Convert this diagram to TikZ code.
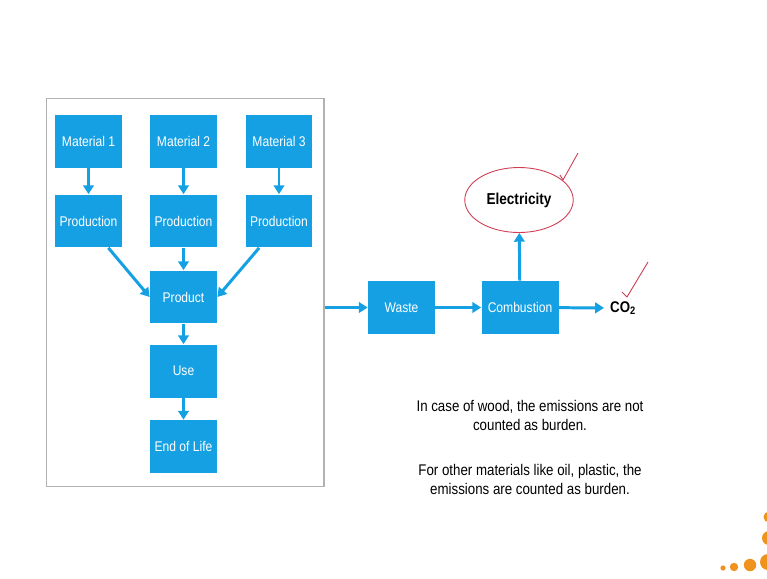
\documentclass[tikz,border=0pt]{standalone}
\usepackage{fontspec}
\setmainfont{Liberation Sans}[FakeStretch=0.86]
\usetikzlibrary{arrows.meta,shapes.geometric}
\definecolor{boxblue}{RGB}{22,160,228}
\definecolor{dotorange}{RGB}{240,146,30}
\definecolor{penred}{RGB}{205,60,80}

\begin{document}
\begin{tikzpicture}[x=0.02cm,y=-0.02cm,
    blk/.style={fill=boxblue,text=white,minimum width=1.34cm,minimum height=1.06cm,
      inner sep=1pt,font=\fontsize{8}{9.6}\selectfont},
    flow/.style={boxblue,line width=1.7pt,-{Triangle[length=5pt,width=6pt]}},
    note/.style={align=center,font=\fontsize{8.8}{10.8}\selectfont}]
  \useasboundingbox (0,0) rectangle (767,578);
  \node[draw=gray!60,line width=0.6pt,minimum width=5.56cm,minimum height=7.78cm] (frame) at (185,292.5){};
  \node[blk] (mat1) at (88.5,141.5){Material 1};
  \node[blk] (mat2) at (183.5,141.5){Material 2};
  \node[blk] (mat3) at (279,141.5){Material 3};
  \node[blk] (prod1) at (88.5,221){Production};
  \node[blk] (prod2) at (183.5,221){Production};
  \node[blk] (prod3) at (279,221){Production};
  \node[blk] (product) at (183.5,297){Product};
  \node[blk] (use) at (183.5,371){Use};
  \node[blk] (eol) at (183.5,446.5){End of Life};
  \node[blk] (waste) at (401.5,307.5){Waste};
  \node[blk,minimum width=1.54cm] (comb) at (520,307.5){Combustion};
  \node[font=\fontsize{8.8}{10}\selectfont\bfseries,anchor=west] (co2) at (604,308){CO\textsubscript{2}};
  \node[ellipse,draw=penred,line width=0.5pt,minimum width=1.74cm,minimum height=1.3cm,
    font=\fontsize{9}{10}\selectfont\bfseries] (elec) at (519,200){Electricity};
  \foreach \a/\b in {mat1/prod1,mat2/prod2,mat3/prod3,prod2/product,product/use,use/eol}
    \draw[flow] (\a) -- (\b);
  \draw[flow] (prod1.south east) ++(-14,0) -- (product.west);
  \draw[flow] (prod3.south west) ++(14,0) -- (product.east);
  \draw[flow] (frame.east |- waste) -- (waste);
  \draw[flow] (waste) -- (comb);
  \draw[flow] (comb) -- (co2);
  \draw[flow] (comb) -- (elec);
  % hand-drawn ticks
  \draw[penred,line width=0.5pt] (560,175) -- (563,180) -- (578,153);
  \draw[penred,line width=0.5pt] (622,292) -- (627,297) -- (648,262);
  \node[note] (txt1) at (530,415){In case of wood, the emissions are not\\counted as burden.};
  \node[note] (txt2) at (530,479){For other materials like oil, plastic, the\\emissions are counted as burden.};
  % logo dots
  \fill[dotorange] (723,568) circle (2.6) (734,567) circle (4.2) (750,565) circle (6.2)
    (768,562) circle (8) (769,538) circle (7) (769,517) circle (5.5);
\end{tikzpicture}
\end{document}
